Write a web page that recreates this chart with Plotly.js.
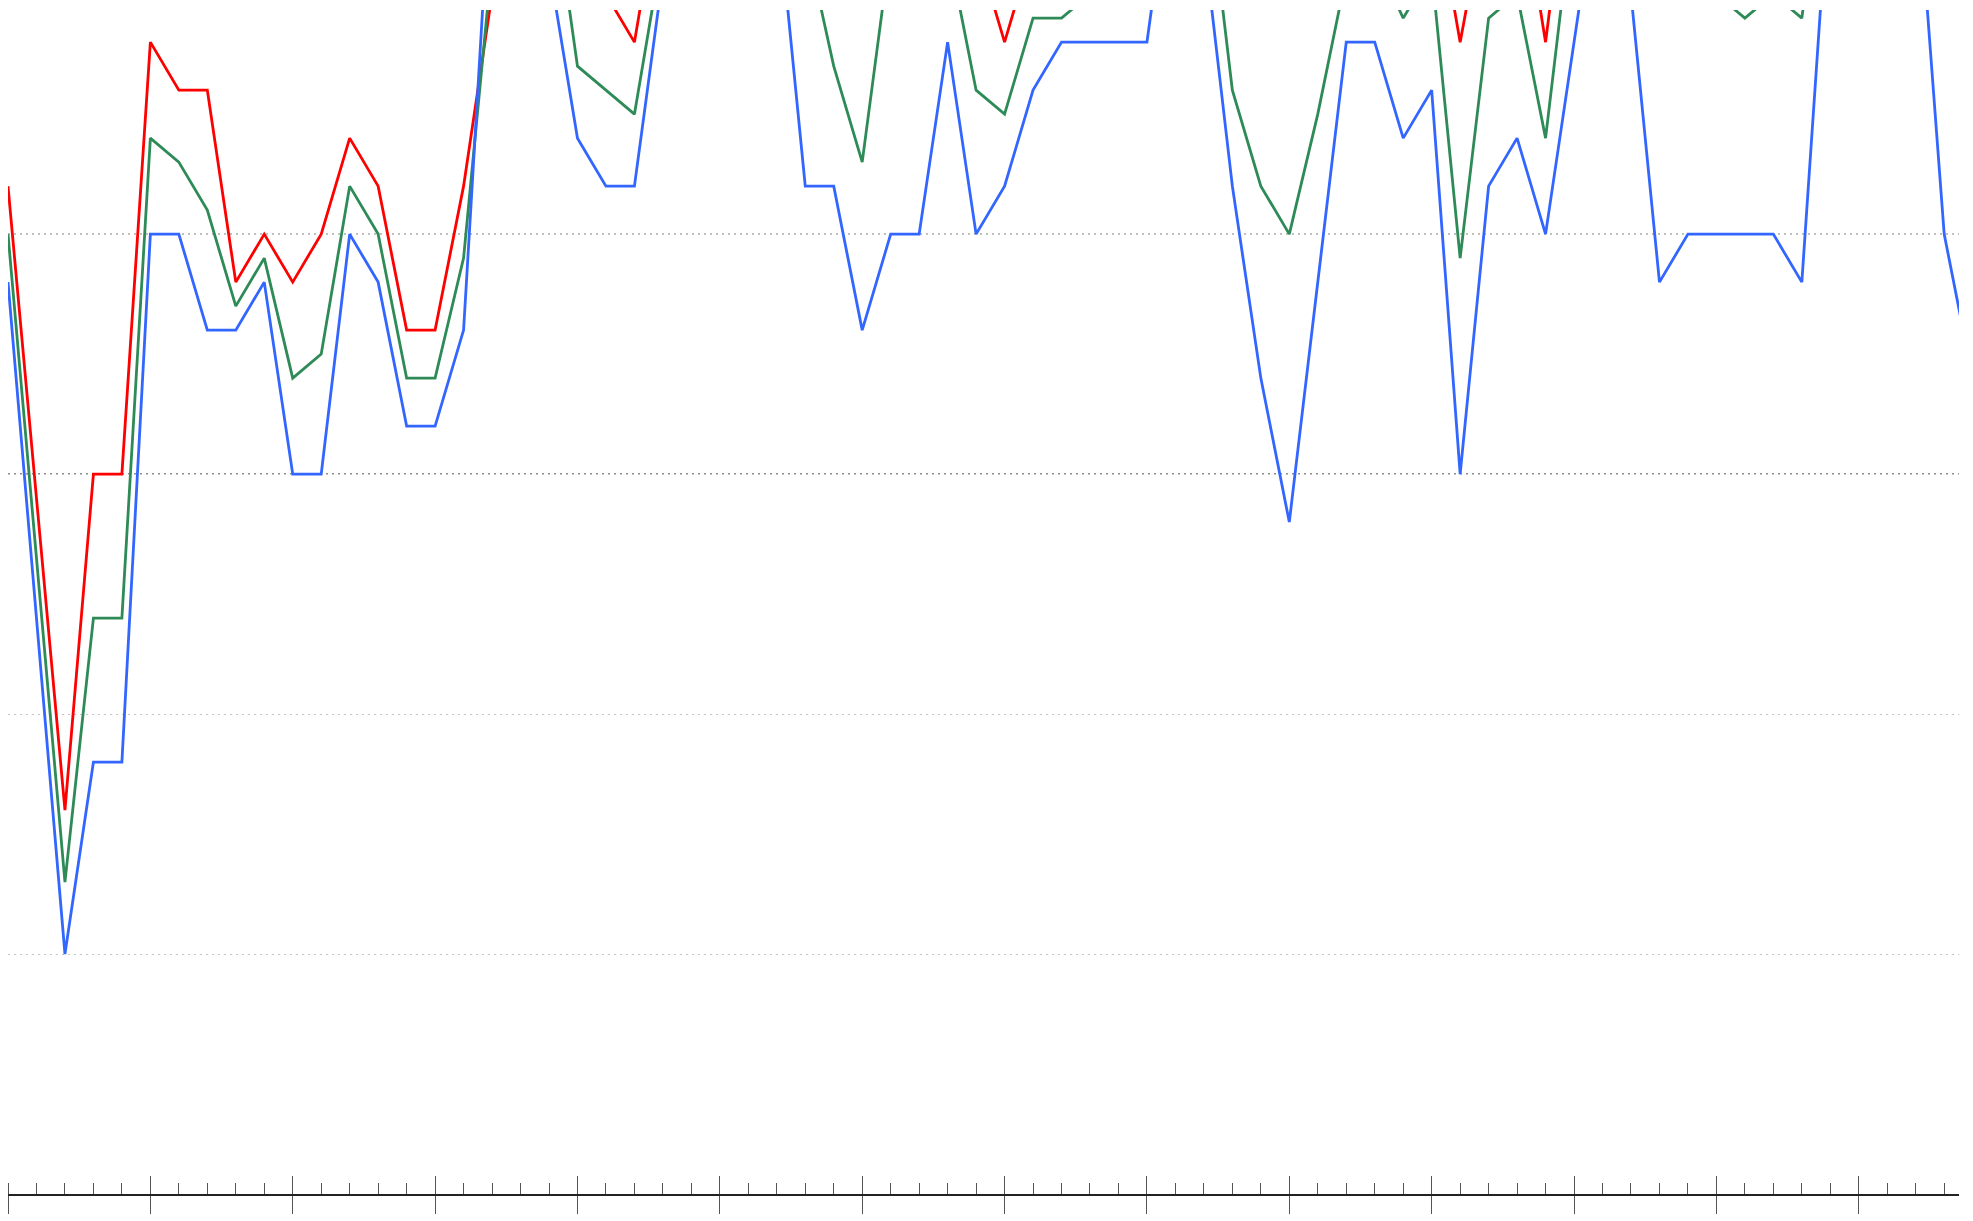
<!DOCTYPE html>
<html>
<head>
<meta charset="utf-8">
<script src="https://cdn.plot.ly/plotly-3.0.1.min.js"></script>
<style>
  html, body { margin: 0; padding: 0; background: #ffffff; }
  #chart { width: 1973px; height: 1221px; }
</style>
</head>
<body>
<div id="chart"></div>
<script>
// x positions (one per minor tick)
const steps = [0,1,2,3,4,5,6,7,8,9,10,11,12,13,14,15,16,17,18,19,20,21,22,23,24,25,26,27,28,29,
               30,31,32,33,34,35,36,37,38,39,40,41,42,43,44,45,46,47,48,49,50,51,52,53,54,55,56,57,58,59,
               60,61,62,63,64,65,66,67,68,69];

// series values (values above the visible top are estimates from the clipped segments)
const redValues = [21,14.5,8,15,15,24,23,23,19,20,19,20,22,21,18,18,21,25,28,29,
                   26,25,24,27.5,29,30,30,29,28,26.5,25.5,28,28,28,26,24,26,27,27,27.5,
                   27.5,29,30,26,25,25,26,28,28,27,27.4,24,27.2,27.7,24,28.7,30,28,26,27,
                   27,27,27,27,30,30,30,30,27,26];
const greenValues = [20,13.25,6.5,12,12,22,21.5,20.5,18.5,19.5,17,17.5,21,20,17,17,19.5,25.7,28,27.7,
                     23.5,23,22.5,26,28,29,29,28,26.2,23.5,21.5,26,27,26,23,22.5,24.5,24.5,25,26,
                     26.5,28,28,23,21,20,22.5,25.4,25.8,24.5,25.5,19.5,24.5,25,22,27,29,27,26,25.5,
                     25,24.5,25,24.5,29,29,29,28.5,26,24];
const blueValues = [19,12,5,9,9,20,20,18,18,19,15,15,20,19,16,16,18,28,27,25.6,
                    22,21,21,25.4,27,28,28,27,21,21,18,20,20,24,20,21,23,24,24,24,
                    24,28.3,26.1,21,17,14,19,24,24,22,23,15,21,22,20,24,28,25,19,20,
                    20,20,20,19,27.7,29,29,27.9,20,17];

// reference (darker) grid levels
const refLevels = [15, 20];
const refColors = ['#1e1e1e', '#7a7a7a'];

const xRange = [0, 68.52];
const yRange = [0, 24.67];

const traces = [
  {x: steps, y: redValues, type: 'scatter', mode: 'lines', xaxis: 'x', yaxis: 'y',
   line: {color: '#ff0000', width: 2.8}, hoverinfo: 'skip'},
  {x: steps, y: greenValues, type: 'scatter', mode: 'lines', xaxis: 'x', yaxis: 'y',
   line: {color: '#2e8b57', width: 2.8}, hoverinfo: 'skip'},
  {x: steps, y: blueValues, type: 'scatter', mode: 'lines', xaxis: 'x2', yaxis: 'y',
   line: {color: '#3366ff', width: 2.8}, hoverinfo: 'skip'}
];

const shapes = refLevels.map((v, k) => ({
  type: 'line', xref: 'paper', x0: 0, x1: 1, yref: 'y', y0: v, y1: v,
  line: {color: refColors[k], width: 1.2, dash: '2px,4px'}, layer: 'below'
}));

const layout = {
  width: 1973, height: 1221,
  margin: {l: 8, r: 14, t: 10, b: 27, pad: 0},
  paper_bgcolor: '#ffffff', plot_bgcolor: '#ffffff',
  showlegend: false,
  xaxis: {
    range: xRange, tickmode: 'linear', tick0: 0, dtick: 5,
    ticks: 'outside', ticklen: 18, tickwidth: 1, tickcolor: '#555555',
    showticklabels: false, showgrid: false, zeroline: false,
    showline: true, linecolor: '#222222', linewidth: 2,
    minor: {ticks: 'inside', tick0: 0, dtick: 1, ticklen: 11, tickwidth: 1,
            tickcolor: '#555555', showgrid: false}
  },
  xaxis2: {
    range: xRange, overlaying: 'x', anchor: 'y', side: 'bottom',
    tickmode: 'linear', tick0: 0, dtick: 5,
    ticks: 'inside', ticklen: 18, tickwidth: 1, tickcolor: '#555555',
    showticklabels: false, showgrid: false, zeroline: false, showline: false
  },
  yaxis: {
    range: yRange, tickmode: 'linear', tick0: 0, dtick: 5,
    showgrid: true, gridcolor: '#c4c4c4', gridwidth: 1, griddash: '2px,4px',
    showticklabels: false, ticks: '', zeroline: false, showline: false
  },
  shapes: shapes
};

Plotly.newPlot('chart', traces, layout, {displayModeBar: false, staticPlot: true});
</script>
</body>
</html>
